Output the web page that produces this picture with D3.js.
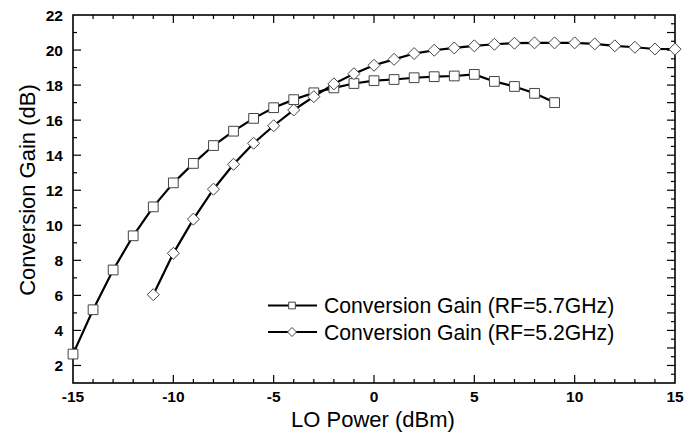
<!DOCTYPE html>
<html><head><meta charset="utf-8">
<script src="https://cdn.jsdelivr.net/npm/d3@7"></script>
<style>body{margin:0;background:#fff}svg{display:block}</style>
</head><body>
<script>
const xValues57 = [-15,-14,-13,-12,-11,-10,-9,-8,-7,-6,-5,-4,-3,-2,-1,0,1,2,3,4,5,6,7,8,9];
const gain57 = [2.65,5.18,7.45,9.4,11.05,12.42,13.53,14.55,15.37,16.1,16.71,17.17,17.56,17.84,18.09,18.25,18.32,18.42,18.48,18.52,18.61,18.21,17.92,17.53,17.0];
const xValues52 = [-11,-10,-9,-8,-7,-6,-5,-4,-3,-2,-1,0,1,2,3,4,5,6,7,8,9,10,11,12,13,14,15];
const gain52 = [6.04,8.4,10.35,12.06,13.48,14.68,15.68,16.58,17.34,18.07,18.65,19.13,19.47,19.8,19.99,20.12,20.24,20.33,20.39,20.41,20.41,20.41,20.35,20.24,20.16,20.06,20.05];
const xTickLabels = [-15,-10,-5,0,5,10,15];
const yTickLabels = [2,4,6,8,10,12,14,16,18,20,22];
const seriesNames = ["Conversion Gain (RF=5.7GHz)","Conversion Gain (RF=5.2GHz)"];

const W=695,H=434;
const m={l:73,r:20,t:15,b:51};
const svg=d3.select("body").append("svg").attr("width",W).attr("height",H);
const x=d3.scaleLinear().domain([-15,15]).range([m.l,W-m.r]);
const y=d3.scaleLinear().domain([1,22]).range([H-m.b,m.t]);
const font="'Liberation Sans', Arial, sans-serif";

// frame
svg.append("rect").attr("x",x(-15)).attr("y",y(22)).attr("width",x(15)-x(-15)).attr("height",y(1)-y(22))
  .attr("fill","none").attr("stroke","#000").attr("stroke-width",1.6);

const g=svg.append("g").attr("stroke","#000").attr("stroke-width",1.2);
d3.range(-14,15,1).forEach(v=>{
  const L = v%5===0?8:4;
  g.append("line").attr("x1",x(v)).attr("x2",x(v)).attr("y1",y(1)).attr("y2",y(1)-L);
  g.append("line").attr("x1",x(v)).attr("x2",x(v)).attr("y1",y(22)).attr("y2",y(22)+L);
});
d3.range(2,22,1).forEach(v=>{
  const L=v%2===0?8:4;
  g.append("line").attr("x1",x(-15)).attr("x2",x(-15)+L).attr("y1",y(v)).attr("y2",y(v));
});
d3.range(1.5,22,0.5).forEach(v=>{
  const L=Number.isInteger(v)?8:4;
  g.append("line").attr("x1",x(15)).attr("x2",x(15)-L).attr("y1",y(v)).attr("y2",y(v));
});

// tick labels
svg.append("g").selectAll("text").data(xTickLabels).join("text")
  .attr("x",d=>x(d)).attr("y",y(1)+19).attr("text-anchor","middle")
  .attr("font-family",font).attr("font-weight","bold").attr("font-size",15.5).text(d=>d);
svg.append("g").selectAll("text").data(yTickLabels).join("text")
  .attr("x",x(-15)-10).attr("y",d=>y(d)+5.5).attr("text-anchor","end")
  .attr("font-family",font).attr("font-weight","bold").attr("font-size",15.5).text(d=>d);

// axis titles
svg.append("text").attr("x",x(0)-1).attr("y",427).attr("text-anchor","middle")
  .attr("font-family",font).attr("font-size",22).text("LO Power (dBm)");
svg.append("text").attr("transform",`translate(35,190) rotate(-90)`).attr("text-anchor","middle")
  .attr("font-family",font).attr("font-size",22).text("Conversion Gain (dB)");

const line=d3.line().x(d=>x(d[0])).y(d=>y(d[1]));
const d57=xValues57.map((v,i)=>[v,gain57[i]]);
const d52=xValues52.map((v,i)=>[v,gain52[i]]);
const plot=svg.append("g");
plot.append("path").datum(d57).attr("d",line).attr("fill","none").attr("stroke","#000").attr("stroke-width",2.2);
plot.append("path").datum(d52).attr("d",line).attr("fill","none").attr("stroke","#000").attr("stroke-width",2.2);

const sq=d3.symbol().type(d3.symbolSquare).size(95);
const dm=(r)=>`M0,${-r}L${r},0L0,${r}L${-r},0Z`;
plot.append("g").selectAll("path").data(d57).join("path")
  .attr("transform",d=>`translate(${x(d[0])},${y(d[1])})`).attr("d",sq)
  .attr("fill","#fff").attr("stroke","#444").attr("stroke-width",1);
plot.append("g").selectAll("path").data(d52).join("path")
  .attr("transform",d=>`translate(${x(d[0])},${y(d[1])})`).attr("d",dm(6))
  .attr("fill","#fff").attr("stroke","#444").attr("stroke-width",1);

// legend
const leg=svg.append("g");
const rows=[{y:305.5,type:"sq"},{y:332,type:"dm"}];
rows.forEach((r,i)=>{
  leg.append("line").attr("x1",268).attr("x2",317).attr("y1",r.y).attr("y2",r.y).attr("stroke","#000").attr("stroke-width",2.2);
  const mk=leg.append("path").attr("transform",`translate(292,${r.y})`)
    .attr("fill","#fff").attr("stroke","#444").attr("stroke-width",1);
  if(r.type==="sq") mk.attr("d",d3.symbol().type(d3.symbolSquare).size(45)());
  else mk.attr("d",dm(4.5));
  leg.append("text").attr("x",324).attr("y",r.y+7.5).attr("font-family",font).attr("font-size",21.2)
    .text(seriesNames[i]);
});
</script>
</body></html>
